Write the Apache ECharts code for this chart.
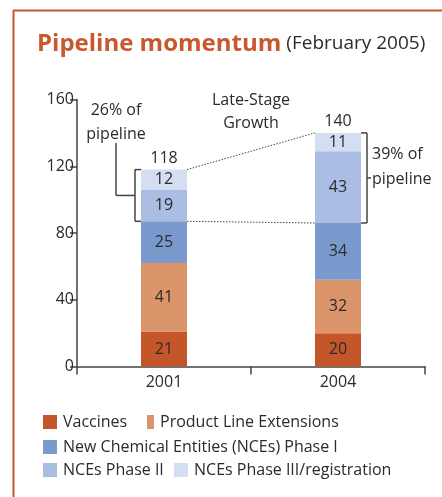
<!DOCTYPE html>
<html><head><meta charset="utf-8">
<script src="https://cdn.jsdelivr.net/npm/echarts@6/dist/echarts.min.js"></script>
<style>html,body{margin:0;padding:0;background:#fff}#c{width:442px;height:497px}</style>
</head><body><div id="c"></div>
<script>
const categories = ['2001', '2004'];
const vaccines = [21, 20];
const lineExtensions = [41, 32];
const nceI = [25, 34];
const nceII = [19, 43];
const nceIII = [12, 11];
const totals = [118, 140];
const seriesNames = ['Vaccines', 'Product Line Extensions', 'New Chemical Entities (NCEs) Phase I', 'NCEs Phase II', 'NCEs Phase III/registration'];
const colors = ['#c5562a', '#dc946b', '#7a9acd', '#aabde3', '#d4def3'];
const lateStageShare = ['26% of\npipeline', '39% of\npipeline'];

const FONT = 'Open Sans';
const TXT = '#2b2b2b';
const chart = echarts.init(document.getElementById('c'), null, {renderer: 'canvas'});
const BW = 46;

const dataSets = [vaccines, lineExtensions, nceI, nceII, nceIII];
const series = dataSets.map((d, i) => ({
  name: seriesNames[i], type: 'bar', stack: 'a', data: d, barWidth: BW,
  itemStyle: {color: colors[i]},
  label: {show: true, position: 'inside', color: TXT, fontFamily: FONT, fontSize: 16},
  emphasis: {disabled: true}
}));

function legendAt(name, left, top, w) {
  return {data: [name], left: left, top: top, padding: 0, itemWidth: w || 14, itemHeight: 14, icon: 'rect',
    selectedMode: false, textStyle: {fontFamily: FONT, fontSize: 16, color: TXT, padding: [0, 0, 0, 1]}};
}

chart.setOption({
  animation: false,
  title: {
    left: 37, top: 32, padding: 0,
    text: '{a|Pipeline momentum} {b|(February 2005)}',
    textStyle: {rich: {
      a: {fontFamily: FONT, fontWeight: 'bold', fontSize: 24, color: '#c8582e'},
      b: {fontFamily: FONT, fontWeight: 'normal', fontSize: 19, color: TXT}
    }}
  },
  grid: {left: 77, right: 17, top: 99.5, bottom: 130.5},
  legend: [
    legendAt(seriesNames[0], 43, 414),
    legendAt(seriesNames[1], 147, 414, 7),
    legendAt(seriesNames[2], 43, 439),
    legendAt(seriesNames[3], 43, 462),
    legendAt(seriesNames[4], 174, 462)
  ],
  xAxis: {
    type: 'category', data: categories,
    axisLine: {lineStyle: {color: '#444', width: 1.5}},
    axisTick: {show: true, length: 8, lineStyle: {color: '#444', width: 1.5}},
    axisLabel: {fontFamily: FONT, fontSize: 16, color: TXT, margin: 8}
  },
  yAxis: {
    type: 'value', min: 0, max: 160, interval: 40,
    axisLine: {show: true, lineStyle: {color: '#444', width: 1.5}},
    axisTick: {show: true, length: 7, lineStyle: {color: '#444', width: 1.5}},
    axisLabel: {fontFamily: FONT, fontSize: 16, color: TXT, margin: 3},
    splitLine: {show: false}
  },
  series: series
});

// annotations derived from data through the axes
const px = (i, v) => chart.convertToPixel({seriesIndex: 0}, [i, v]);
const top0 = px(0, totals[0]), top1 = px(1, totals[1]);
const late0 = px(0, vaccines[0] + lineExtensions[0] + nceI[0]);
const late1 = px(1, vaccines[1] + lineExtensions[1] + nceI[1]);
const r0 = top0[0] + BW / 2, l1 = top1[0] - BW / 2, r1 = top1[0] + BW / 2, l0 = top0[0] - BW / 2;
const ln = (x1, y1, x2, y2, dash) => ({type: 'line', shape: {x1, y1, x2, y2},
  style: {stroke: '#444', lineWidth: dash ? 1 : 1.5, lineDash: dash ? [1.5, 1.5] : null}, silent: true});
const txt = (x, y, text, align, lh) => ({type: 'text', x, y, silent: true,
  style: {text, fill: TXT, font: '16px "' + FONT + '"', align: align || 'center', verticalAlign: 'middle', lineHeight: lh || 24}});

const bx0 = l0 - 6, bm0 = (top0[1] + late0[1]) / 2;
const bx1 = r1 + 6, bm1 = (top1[1] + late1[1]) / 2;
const graphics = [
  ln(13.5, 10, 13.5, 497), ln(13, 10.5, 442, 10.5),
  ln(r0, top0[1], l1, top1[1], true),
  ln(r0, late0[1], l1, late1[1], true),
  // 2001 bracket
  ln(bx0, top0[1], bx0, late0[1]), ln(bx0, top0[1], l0, top0[1]), ln(bx0, late0[1], l0, late0[1]),
  ln(bx0, bm0, 116, bm0), ln(116, bm0, 116, 143),
  // 2004 bracket
  ln(bx1, top1[1], bx1, late1[1]), ln(bx1, top1[1], r1, top1[1]), ln(bx1, late1[1], r1, late1[1]),
  ln(bx1, bm1, bx1 + 4, bm1),
  txt(116, 122, lateStageShare[0]),
  txt(bx1 + 5, bm1 - 11, lateStageShare[1], 'left', 25),
  txt((r0 + l1) / 2, 112, 'Late-Stage\nGrowth', 'center', 23),
  txt(top0[0], top0[1] - 11, String(totals[0])),
  txt(top1[0], top1[1] - 11, String(totals[1]))
];
graphics[0].style.stroke = '#c8582e'; graphics[0].style.lineWidth = 2;
graphics[1].style.stroke = '#c8582e'; graphics[1].style.lineWidth = 2;
chart.setOption({graphic: graphics});
</script>
</body></html>
